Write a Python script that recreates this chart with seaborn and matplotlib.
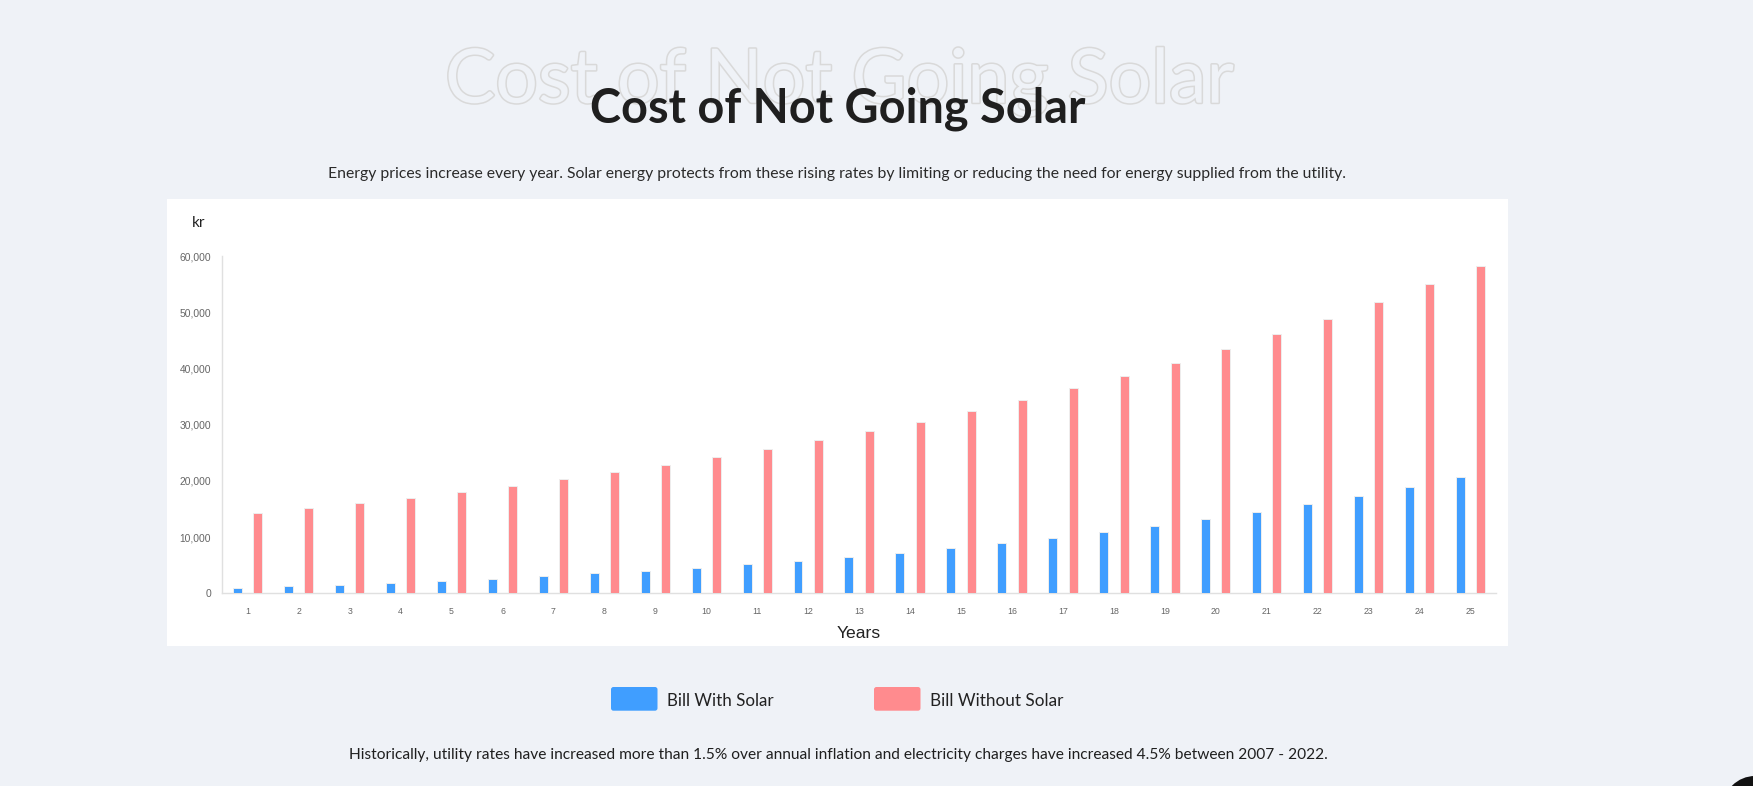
import matplotlib
matplotlib.use("Agg")
import matplotlib.pyplot as plt
import matplotlib.transforms as mtransforms
import matplotlib.patheffects as pe
from matplotlib.patches import Rectangle, FancyBboxPatch, Circle
import numpy as np
import pandas as pd
import seaborn as sns

# ---------------- data ----------------
years = list(range(1, 26))
year_labels = [str(y) for y in years]
bill_with_solar = [948, 1245, 1541, 1838, 2193, 2608, 3082, 3557, 4031, 4564,
                   5157, 5809, 6520, 7232, 8065, 8954, 9903, 10911, 12038, 13224,
                   14529, 15892, 17375, 18976, 20696]
bill_without_solar = [14226, 15116, 16064, 17012, 18080, 19147, 20273, 21518, 22822, 24185,
                      25608, 27208, 28809, 30540, 32437, 34394, 36470, 38664, 40976, 43467,
                      46076, 48863, 51769, 54971, 58233]
series_names = ["Bill With Solar", "Bill Without Solar"]
y_ticks = [0, 10000, 20000, 30000, 40000, 50000, 60000]

title = "Cost of Not Going Solar"
subtitle = ("Energy prices increase every year. Solar energy protects from these rising rates "
            "by limiting or reducing the need for energy supplied from the utility.")
footer = ("Historically, utility rates have increased more than 1.5% over annual inflation "
          "and electricity charges have increased 4.5% between 2007 - 2022.")
unit_label = "kr"
x_label = "Years"

# ---------------- style ----------------
BG = "#eff2f7"
BLUE = "#409eff"
RED = "#ff8b8e"
W, H = 1753, 786

sns.set_style("white")
plt.rcParams["font.family"] = ["Lato", "DejaVu Sans"]

fig = plt.figure(figsize=(W / 100, H / 100), dpi=100, facecolor=BG)
# pixel transform: (x from left, y from top) -> figure
P = mtransforms.Affine2D().scale(1 / W, -1 / H).translate(0, 1) + fig.transFigure
renderer = fig.canvas.get_renderer()


def fit_width(t, target):
    for _ in range(3):
        bb = t.get_window_extent(renderer)
        t.set_fontsize(t.get_fontsize() * target / bb.width)


# white chart card
fig.add_artist(Rectangle((167, 199), 1508 - 167, 646 - 199, transform=P,
                         facecolor="white", edgecolor="none", zorder=0))

# ---------------- chart ----------------
x0, x1, ytop, ybot = 222.3, 1496.0, 256.0, 593.3
ax = fig.add_axes([x0 / W, 1 - ybot / H, (x1 - x0) / W, (ybot - ytop) / H])
ax.set_facecolor("none")

df = pd.DataFrame({
    "Year": years * 2,
    "Value": bill_with_solar + bill_without_solar,
    "Series": [series_names[0]] * len(years) + [series_names[1]] * len(years),
})
sns.barplot(data=df, x="Year", y="Value", hue="Series", hue_order=series_names,
            palette=[BLUE, RED], saturation=1, width=0.8, gap=0.56, edgecolor="#eeeeee",
            linewidth=0.7, errorbar=None, legend=False, ax=ax, zorder=3)

ax.set_xlim(-0.5, len(years) - 0.5)
ax.set_ylim(0, 60000)
ax.set_yticks(y_ticks)
ax.set_yticklabels([f"{v:,}" for v in y_ticks])
ax.set_xticks(range(len(years)))
ax.set_xticklabels(year_labels)
ax.set_xticks(np.arange(-0.5, len(years), 1.0), minor=True)
ax.set_xlabel("")
ax.set_ylabel("")

for s in ["top", "right"]:
    ax.spines[s].set_visible(False)
for s in ["left", "bottom"]:
    ax.spines[s].set_color("#e0e0e0")
    ax.spines[s].set_linewidth(1.0)

ax.tick_params(axis="y", which="major", length=6.5, width=0.8, color="#dddddd",
               pad=1.5, labelsize=7.4, labelcolor="#666666")
ax.tick_params(axis="x", which="major", length=0, pad=10.0, labelsize=6.3,
               labelcolor="#666666")
ax.tick_params(axis="x", which="minor", length=6.0, width=1.0, color="#dddddd")
for lab in ax.get_xticklabels() + ax.get_yticklabels():
    lab.set_fontfamily(["Liberation Sans", "DejaVu Sans"])

fig.text(191.7, 226.7, unit_label, transform=P, fontsize=11.0, color="#222222",
         va="baseline", ha="left")
fig.text((x0 + x1) / 2, 637.7, x_label, transform=P, fontsize=12.6, color="#222222",
         va="baseline", ha="center", family=["Liberation Sans", "DejaVu Sans"])

# ---------------- titles ----------------
ghost = fig.text(839, 102.7, title, transform=P, fontsize=56, color=BG,
                 va="baseline", ha="center", zorder=1,
                 path_effects=[pe.Stroke(linewidth=2.2, foreground="#d9d9d9"), pe.Normal()])
fit_width(ghost, 789)

main = fig.text(837.7, 122.7, title, transform=P, fontsize=34, color="#1f1f1f",
                fontweight="bold", va="baseline", ha="center", zorder=2)
fit_width(main, 497)

sub = fig.text(837, 178.3, subtitle, transform=P, fontsize=11.5, color="#2a2a2a",
               va="baseline", ha="center")
fit_width(sub, 1016)

foot = fig.text(838, 759.3, footer, transform=P, fontsize=11.5, color="#1f1f1f",
                va="baseline", ha="center")
fit_width(foot, 983)

# ---------------- legend ----------------
legend_items = [(series_names[0], BLUE, 611.0, 666.7, 106.7),
                (series_names[1], RED, 874.0, 930.0, 133.3)]
for name, col, sx, tx, tw in legend_items:
    fig.add_artist(FancyBboxPatch((sx, 687.0), 46.5, 23.7,
                                  boxstyle="round,pad=0,rounding_size=2.5",
                                  transform=P, facecolor=col, edgecolor="none"))
    t = fig.text(tx, 706.0, name, transform=P, fontsize=12.5, color="#222222",
                 va="baseline", ha="left")
    fit_width(t, tw)

# corner widget
fig.add_artist(Circle((1755, 808), 32, transform=P, facecolor="#111111",
                      edgecolor="none"))

fig.savefig("out.png", dpi=100, facecolor=BG)
